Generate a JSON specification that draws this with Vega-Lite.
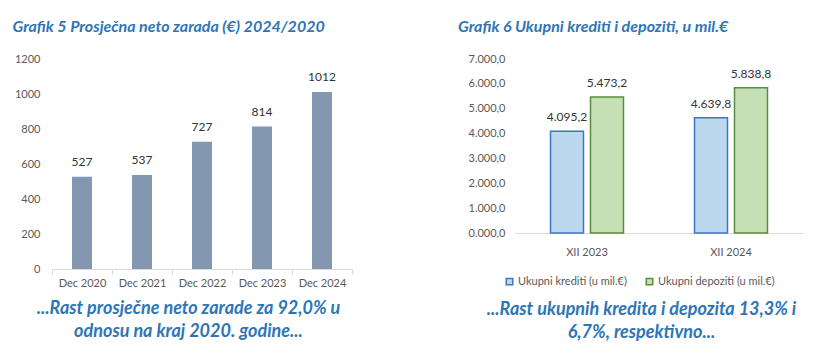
{
  "$schema": "https://vega.github.io/schema/vega-lite/v6.json",
  "padding": {"left": 12, "top": 19, "right": 0, "bottom": 0},
  "background": "white",
  "spacing": 105,
  "resolve": {"scale": {"fill": "independent", "stroke": "independent"}, "legend": {"fill": "independent", "stroke": "independent"}},
  "config": {
    "view": {"stroke": null},
    "font": "Lato",
    "locale": {"number": {"decimal": ",", "thousands": ".", "grouping": [3], "currency": ["", " €"]}},
    "title": {"font": "Lato", "fontSize": 16, "fontStyle": "italic", "fontWeight": "bold", "color": "#2E75B6", "anchor": "start", "frame": "bounds", "offset": 18},
    "axis": {"labelFont": "Lato", "labelFontSize": 11, "labelColor": "#595959", "grid": false,
      "titleFont": "Lato", "titleFontSize": 18, "titleFontStyle": "italic", "titleFontWeight": "bold", "titleColor": "#2E75B6", "titleLineHeight": 23}
  },
  "hconcat": [
    {
      "title": {"text": "Grafik 5 Prosječna neto zarada (€) 2024/2020", "dx": -2},
      "width": 300,
      "height": 210,
      "data": {"values": [
        {"period": "Dec 2020", "value": 527},
        {"period": "Dec 2021", "value": 537},
        {"period": "Dec 2022", "value": 727},
        {"period": "Dec 2023", "value": 814},
        {"period": "Dec 2024", "value": 1012}
      ]},
      "encoding": {
        "x": {"field": "period", "type": "nominal", "sort": null,
          "scale": {"paddingInner": 0, "paddingOuter": 0},
          "axis": {"title": ["...Rast prosječne neto zarade za 92,0% u", "odnosu na kraj 2020. godine..."],
            "titleX": 136, "titleAlign": "center", "titlePadding": 11,
            "labelAngle": 0, "domainColor": "#D9D9D9", "tickColor": "#D9D9D9", "tickSize": 5, "tickBand": "extent", "labelPadding": 3}},
        "y": {"field": "value", "type": "quantitative",
          "scale": {"domain": [0, 1200]},
          "axis": {"title": null, "values": [0, 200, 400, 600, 800, 1000, 1200], "domain": false, "ticks": false, "labelPadding": 12, "format": "d"}}
      },
      "layer": [
        {"mark": {"type": "bar", "width": 20, "color": "#8497B0"}},
        {"mark": {"type": "text", "baseline": "bottom", "dy": -8, "fontSize": 12, "color": "#333333"},
          "encoding": {"text": {"field": "value", "type": "quantitative", "format": "d"}}}
      ]
    },
    {
      "title": {"text": "Grafik 6 Ukupni krediti i depoziti, u mil.€", "dx": -10},
      "width": 288,
      "height": 174,
      "data": {"values": [
        {"period": "XII 2023", "series": "Ukupni krediti (u mil.€)", "value": 4095.2},
        {"period": "XII 2023", "series": "Ukupni depoziti (u mil.€)", "value": 5473.2},
        {"period": "XII  2024", "series": "Ukupni krediti (u mil.€)", "value": 4639.8},
        {"period": "XII  2024", "series": "Ukupni depoziti (u mil.€)", "value": 5838.8}
      ]},
      "encoding": {
        "x": {"field": "period", "type": "nominal", "sort": null,
          "scale": {"paddingInner": 0.493, "paddingOuter": 0.2465},
          "axis": {"title": ["...Rast ukupnih kredita i depozita 13,3% i", "6,7%, respektivno..."],
            "titleX": 126, "titleAlign": "center", "titlePadding": 43,
            "labelAngle": 0, "domainColor": "#D9D9D9", "ticks": false, "labelPadding": 13}},
        "xOffset": {"field": "series", "type": "nominal", "sort": ["Ukupni krediti (u mil.€)", "Ukupni depoziti (u mil.€)"],
          "scale": {"paddingInner": 0.175, "paddingOuter": 0}},
        "y": {"field": "value", "type": "quantitative",
          "scale": {"domain": [0, 7000]},
          "axis": {"title": null, "values": [0, 1000, 2000, 3000, 4000, 5000, 6000, 7000], "domain": false, "ticks": false, "labelPadding": 10,
            "format": ",.1f", "labelExpr": "datum.value == 0 ? '0.000,0' : datum.label"}}
      },
      "layer": [
        {"mark": {"type": "bar", "strokeWidth": 1.5},
          "encoding": {
            "fill": {"field": "series", "type": "nominal", "sort": ["Ukupni krediti (u mil.€)", "Ukupni depoziti (u mil.€)"],
              "scale": {"domain": ["Ukupni krediti (u mil.€)", "Ukupni depoziti (u mil.€)"], "range": ["#BDD7EE", "#C5E0B4"]},
              "legend": {"title": null, "orient": "none", "legendX": -11, "legendY": 217, "direction": "horizontal",
                "symbolType": "square", "symbolSize": 42, "symbolStrokeWidth": 1.5, "labelFontSize": 11, "labelColor": "#595959", "labelFont": "Lato", "columnPadding": 16, "labelOffset": 3}},
            "stroke": {"field": "series", "type": "nominal", "sort": ["Ukupni krediti (u mil.€)", "Ukupni depoziti (u mil.€)"],
              "scale": {"domain": ["Ukupni krediti (u mil.€)", "Ukupni depoziti (u mil.€)"], "range": ["#3A78C2", "#5A8C3C"]},
              "legend": {"title": null, "orient": "none", "legendX": -11, "legendY": 217, "direction": "horizontal",
                "symbolType": "square", "symbolSize": 42, "symbolStrokeWidth": 1.5, "labelFontSize": 11, "labelColor": "#595959", "labelFont": "Lato", "columnPadding": 16, "labelOffset": 3}}
          }},
        {"mark": {"type": "text", "baseline": "bottom", "dy": -7, "fontSize": 12, "color": "#333333"},
          "encoding": {"text": {"field": "value", "type": "quantitative", "format": ",.1f"}}}
      ]
    }
  ]
}
